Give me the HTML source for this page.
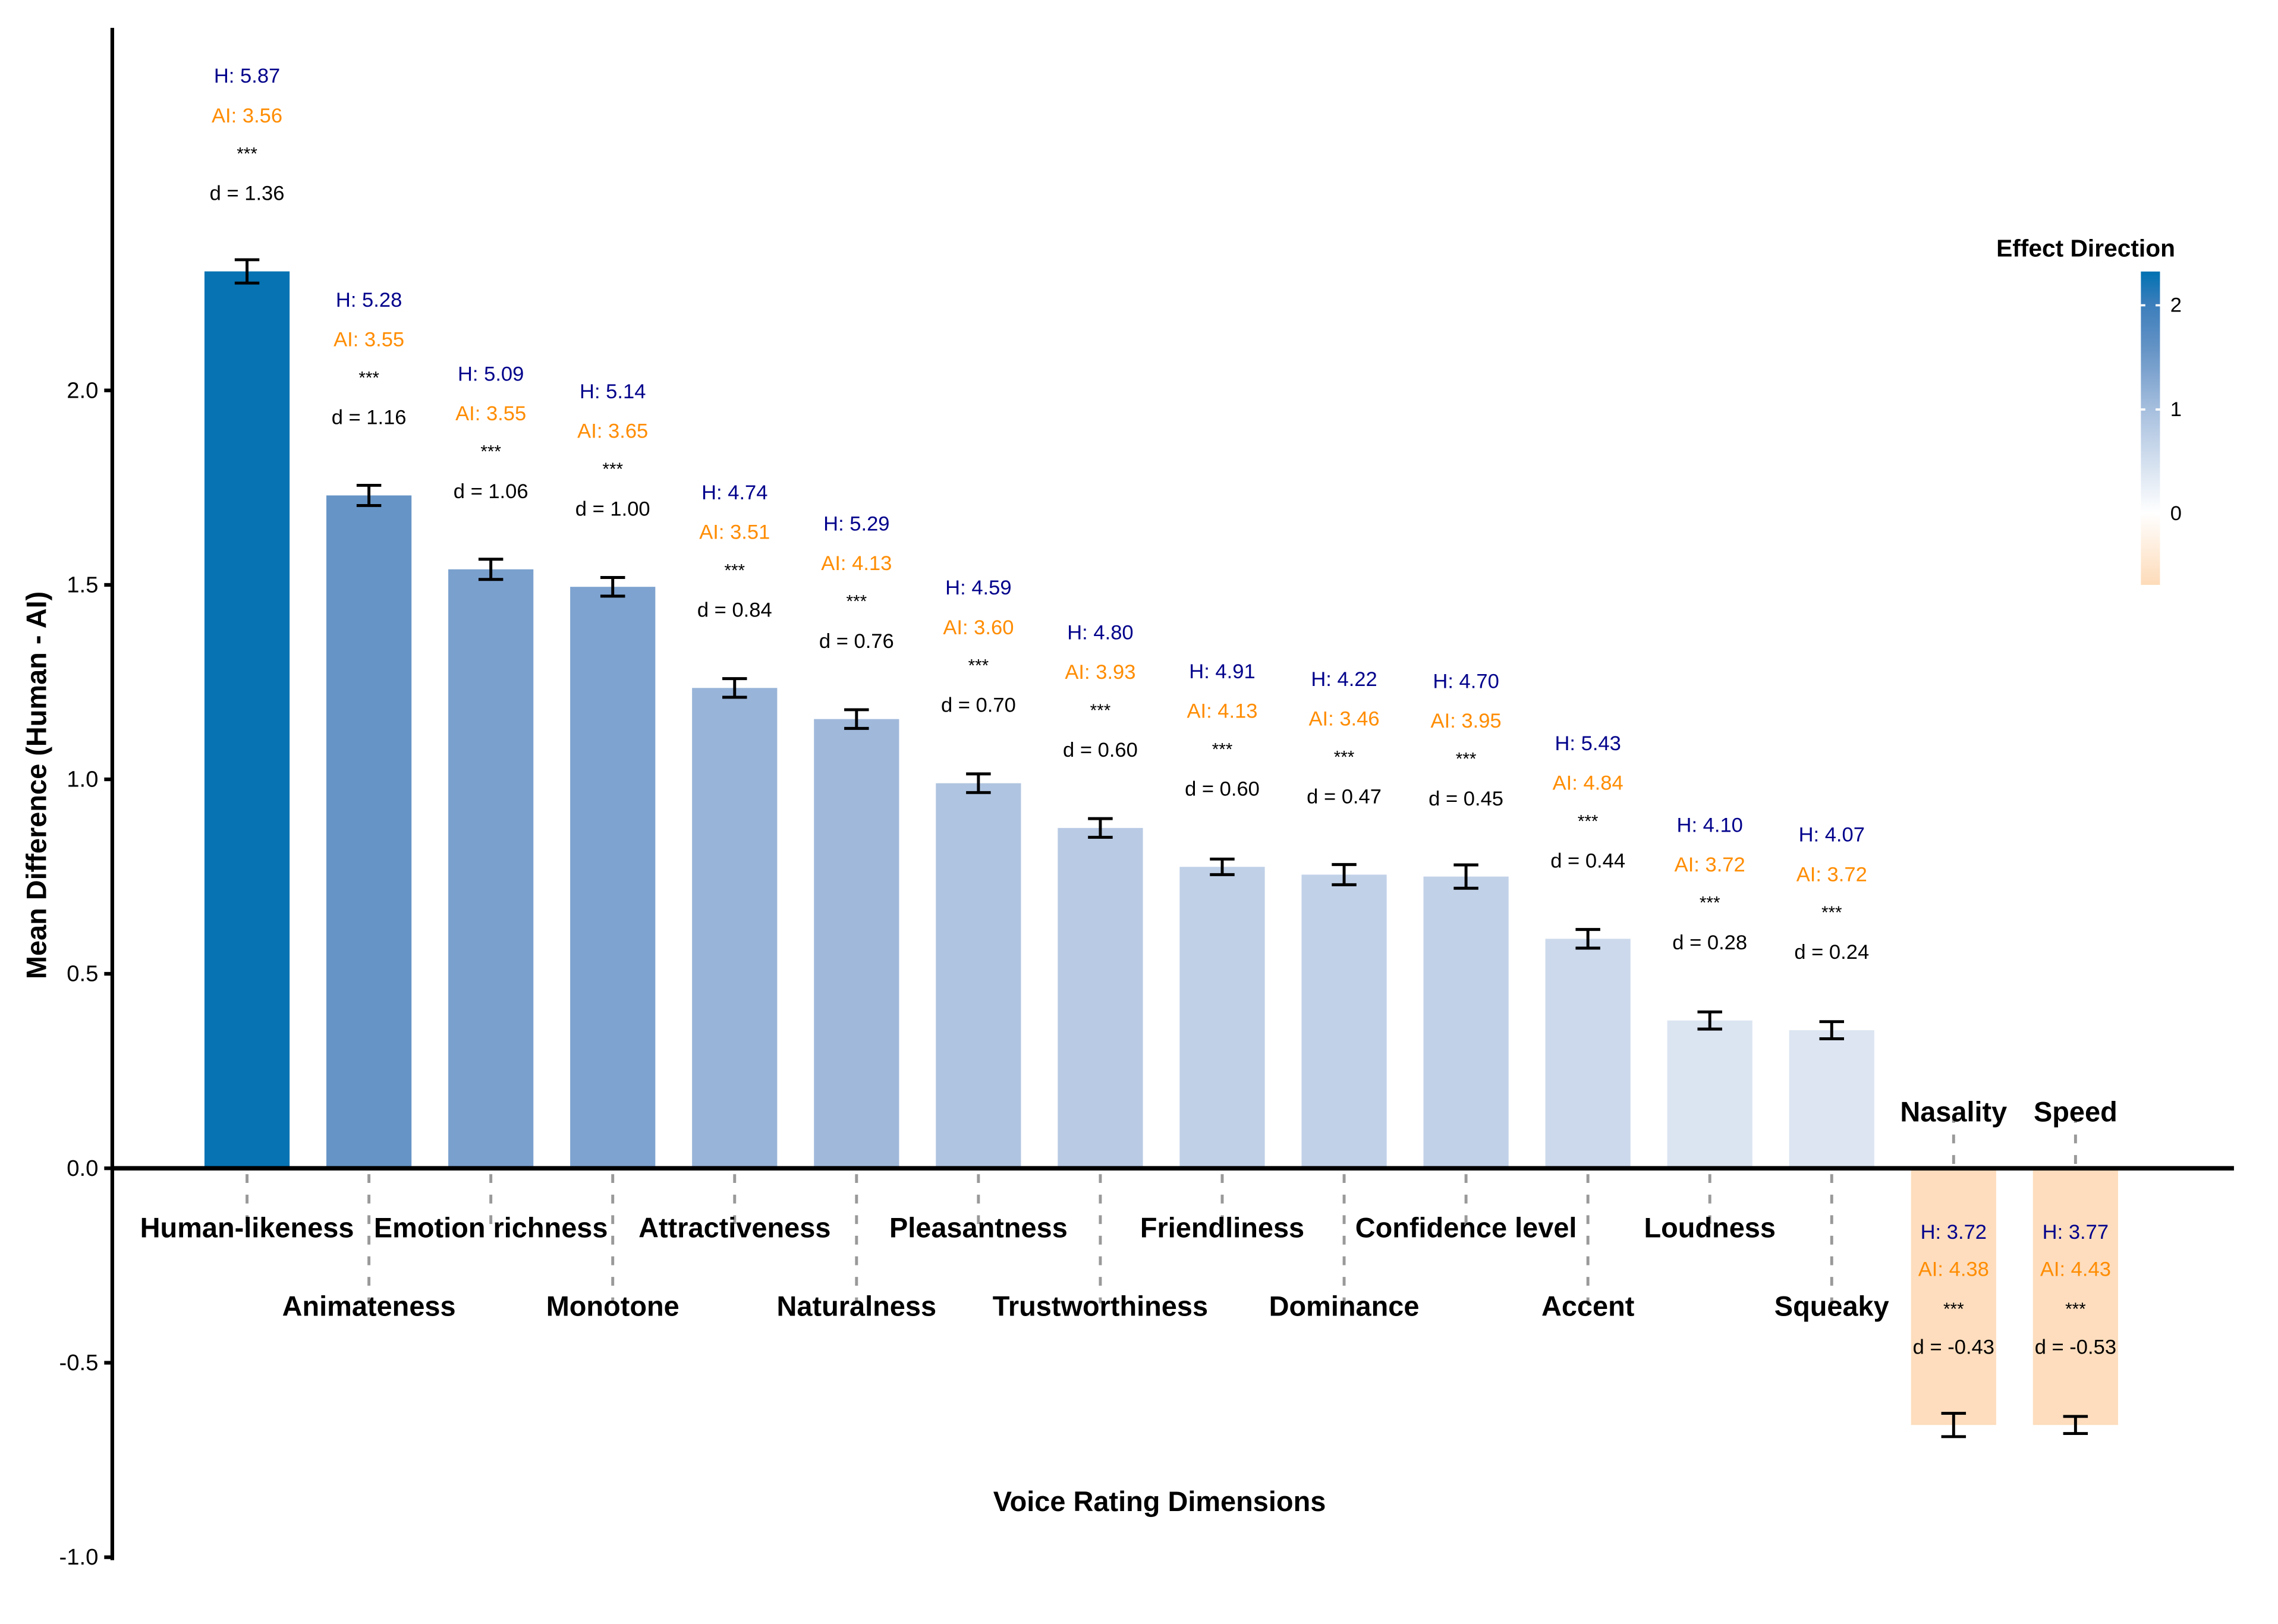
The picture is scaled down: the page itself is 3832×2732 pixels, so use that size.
<!DOCTYPE html>
<html><head><meta charset="utf-8"><style>
html,body{margin:0;padding:0;background:#fff}
svg{display:block}
text{font-family:"Liberation Sans",Arial,sans-serif}
</style></head><body>
<svg id="chart" width="3832" height="2732" viewBox="0 0 1552 1106.5" xmlns="http://www.w3.org/2000/svg">
<defs>
<linearGradient id="cbar" x1="0" y1="0" x2="0" y2="1">
<stop offset="0" stop-color="#0072b2"/>
<stop offset="0.1" stop-color="#3a7dbb"/>
<stop offset="0.25" stop-color="#6694c6"/>
<stop offset="0.45" stop-color="#a9c1df"/>
<stop offset="0.77" stop-color="#ffffff"/>
<stop offset="1" stop-color="#fddbb9"/>
</linearGradient>
</defs>
<g id="plot"></g>
</svg>
<script>
const categories=["Human-likeness","Animateness","Emotion richness","Monotone","Attractiveness","Naturalness","Pleasantness","Trustworthiness","Friendliness","Dominance","Confidence level","Accent","Loudness","Squeaky","Nasality","Speed"];
const meanDiff=[2.306,1.73,1.54,1.495,1.235,1.155,0.99,0.875,0.775,0.755,0.75,0.59,0.38,0.355,-0.66,-0.66];
const errors=[0.03,0.026,0.026,0.024,0.024,0.024,0.024,0.024,0.02,0.026,0.03,0.024,0.022,0.022,0.03,0.022];
const humanMeans=["5.87","5.28","5.09","5.14","4.74","5.29","4.59","4.80","4.91","4.22","4.70","5.43","4.10","4.07","3.72","3.77"];
const aiMeans=["3.56","3.55","3.55","3.65","3.51","4.13","3.60","3.93","4.13","3.46","3.95","4.84","3.72","3.72","4.38","4.43"];
const cohenD=["1.36","1.16","1.06","1.00","0.84","0.76","0.70","0.60","0.60","0.47","0.45","0.44","0.28","0.24","-0.43","-0.53"];
const sig=["***","***","***","***","***","***","***","***","***","***","***","***","***","***","***","***"];
const yTicks=[2.0,1.5,1.0,0.5,0.0,-0.5,-1.0];
const cbTicks=[2,1,0];

const NS="http://www.w3.org/2000/svg";
const g=document.getElementById('plot');
const Y0=796, UNIT=265, X0=168.3, STEP=83.05, BW=58;
const y=v=>Y0-v*UNIT;
const x=i=>X0+i*STEP;
function mk(tag,attrs,txt){const e=document.createElementNS(NS,tag);for(const k in attrs)e.setAttribute(k,attrs[k]);if(txt!==undefined)e.textContent=txt;g.appendChild(e);return e;}
function lerp(a,b,t){return a+(b-a)*t}
function hex(c){return [parseInt(c.slice(1,3),16),parseInt(c.slice(3,5),16),parseInt(c.slice(5,7),16)]}
const stops=[[-0.7,"#fddbb9"],[0,"#ffffff"],[0.36,"#dce5f1"],[0.75,"#c1d1e8"],[1.0,"#aec3e0"],[1.24,"#98b4d8"],[1.5,"#7ea3d0"],[1.73,"#6694c6"],[2.0,"#3a7dbb"],[2.35,"#0072b2"]];
function color(v){for(let i=0;i<stops.length-1;i++){const[a,ca]=stops[i],[b,cb]=stops[i+1];if(v<=b){const t=Math.max(0,(v-a)/(b-a));const A=hex(ca),B=hex(cb);return `rgb(${A.map((q,j)=>Math.round(lerp(q,B[j],t))).join(',')})`;}}return stops[stops.length-1][1];}

categories.forEach((c,i)=>{
  let l;
  if(meanDiff[i]<0){l=mk('line',{x1:x(i),x2:x(i),y1:y(0)-3,y2:y(0)-34,stroke:'#999','stroke-width':2,'stroke-dasharray':'6 8'});}
  else{const end=(i%2===0)?842:888;l=mk('line',{x1:x(i),x2:x(i),y1:y(0)+4,y2:end,stroke:'#999','stroke-width':2,'stroke-dasharray':'6 8'});}
  
  
});

categories.forEach((c,i)=>{
  const v=meanDiff[i];
  const r=mk('rect',{x:x(i)-BW/2,y:Math.min(y(v),y(0)),width:BW,height:Math.abs(y(v)-y(0)),fill:color(v)});
  
  
  const e=errors[i], hw=8.4;
  const eb=mk('path',{d:`M${x(i)-hw},${y(v+e)}H${x(i)+hw}M${x(i)},${y(v+e)}V${y(v-e)}M${x(i)-hw},${y(v-e)}H${x(i)+hw}`,stroke:'#000','stroke-width':2,fill:'none'});
  
  
  let base=[];
  if(v>=0){const t=y(v);base=[t-133,t-106,t-80,t-53];}
  else{base=[839.5,865,892,918];}
  const lines=[['H: '+humanMeans[i],'#00008b','human-mean-label'],['AI: '+aiMeans[i],'#ff8c00','ai-mean-label'],[sig[i],'#000','significance-label'],['d = '+cohenD[i],'#000','effect-size-label']];
  lines.forEach((ln,k)=>{
    const t=mk('text',{x:x(i),y:base[k],'text-anchor':'middle','dominant-baseline':'central','font-size':k===2?12:14,fill:ln[1]},ln[0]);
    
    
  });
});

let zl=mk('line',{x1:76,x2:1522,y1:y(0),y2:y(0),stroke:'#000','stroke-width':3});



let ya=mk('line',{x1:76.5,x2:76.5,y1:19,y2:y(-1.0)+2,stroke:'#000','stroke-width':2.5});


yTicks.forEach(v=>{
  const tk=mk('line',{x1:71,x2:77,y1:y(v),y2:y(v),stroke:'#000','stroke-width':2.5});
  
  
  const t=mk('text',{x:67,y:y(v),'text-anchor':'end','dominant-baseline':'central','font-size':15.5,fill:'#000'},v.toFixed(1));
  
  
});

categories.forEach((c,i)=>{
  let ty;
  if(meanDiff[i]<0) ty=757.5; else ty=(i%2===0)?836.5:890;
  const t=mk('text',{x:x(i),y:ty,'text-anchor':'middle','dominant-baseline':'central','font-size':19,'font-weight':'bold',fill:'#000'},c);
  
  
});

let xt=mk('text',{x:790,y:1023,'text-anchor':'middle','dominant-baseline':'central','font-size':19,'font-weight':'bold'},'Voice Rating Dimensions');


let yt=mk('text',{x:25,y:535,'text-anchor':'middle','dominant-baseline':'central','font-size':19,'font-weight':'bold',transform:'rotate(-90 25 535)'},'Mean Difference (Human - AI)');



let lt=mk('text',{x:1421,y:169,'text-anchor':'middle','dominant-baseline':'central','font-size':16.5,'font-weight':'bold'},'Effect Direction');


const cbTop=185,cbBot=398.5,cb0=350,cbU=71,cbX=1458.6;
let cb=mk('rect',{x:cbX,y:cbTop,width:13,height:cbBot-cbTop,fill:'url(#cbar)'});


cbTicks.forEach(v=>{
  const yy=cb0-v*cbU;
  const l=mk('path',{d:`M${cbX},${yy}h3M${cbX+10},${yy}h3`,stroke:'#fff','stroke-width':1.5});
  
  
  const t=mk('text',{x:cbX+20,y:yy,'dominant-baseline':'central','font-size':14,fill:'#000'},String(v));
  
  
});
</script>
</body></html>
